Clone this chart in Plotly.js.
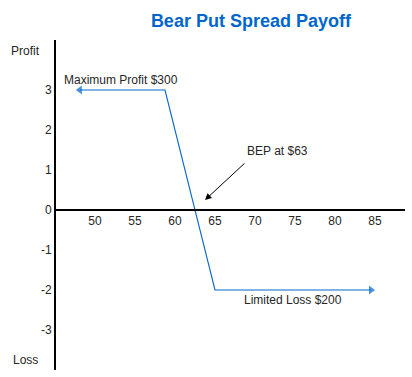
<!DOCTYPE html>
<html>
<head>
<meta charset="utf-8">
<script src="https://cdn.plot.ly/plotly-3.0.1.min.js"></script>
<style>html,body{margin:0;padding:0;background:#fff;}#chart{width:412px;height:377px;}</style>
</head>
<body>
<div id="chart"></div>
<script>
// Data
var payoffX = [48.1, 58.75, 65, 84.5];
var payoffY = [3, 3, -2, -2];
var xTickVals = [50, 55, 60, 65, 70, 75, 80, 85];
var xTickText = ['50', '55', '60', '65', '70', '75', '80', '85'];
var yTickVals = [-3, -2, -1, 0, 1, 2, 3];
var yTickText = ['-3', '-2', '-1', '0', '1', '2', '3'];
var title = 'Bear Put Spread Payoff';
var labelMaxProfit = 'Maximum Profit $300';
var labelBEP = 'BEP at $63';
var labelLoss = 'Limited Loss $200';
var bep = {x: 63.75, y: 0.25};

var FONT = 'Arial, "Liberation Sans", sans-serif';
var TXT = '#262626';
var BLUE = '#0066CC';

var trace = {
  x: payoffX, y: payoffY, type: 'scatter', mode: 'lines+markers',
  line: {color: BLUE, width: 1.1},
  marker: {
    symbol: ['triangle-left', 'circle', 'circle', 'triangle-right'],
    size: [8, 0, 0, 8],
    color: BLUE,
    line: {width: 0}
  },
  hoverinfo: 'skip', showlegend: false
};

var layout = {
  width: 412, height: 377,
  margin: {l: 56, r: 7, t: 40, b: 7},
  paper_bgcolor: '#fff', plot_bgcolor: '#fff',
  font: {family: FONT, size: 12, color: TXT},
  title: {
    text: '<b>' + title + '</b>',
    font: {family: FONT, size: 18, color: BLUE},
    xref: 'container', x: 0.609, xanchor: 'center',
    yref: 'container', y: 0.945, yanchor: 'middle'
  },
  xaxis: {
    range: [45.125, 88.75],
    anchor: 'free', position: 0.4848,
    showline: true, linecolor: '#000', linewidth: 2,
    showgrid: false, zeroline: false,
    tickvals: xTickVals, ticktext: xTickText,
    ticks: '', ticklen: 0,
    tickfont: {family: FONT, size: 12, color: TXT},
    fixedrange: true
  },
  yaxis: {
    range: [-4.0, 4.25],
    showline: true, linecolor: '#000', linewidth: 2,
    showgrid: false, zeroline: false,
    tickvals: yTickVals, ticktext: yTickText,
    ticks: '', ticklen: 0,
    tickfont: {family: FONT, size: 12, color: TXT},
    fixedrange: true
  },
  annotations: [
    {xref: 'paper', yref: 'y', x: -0.088, y: 3.975, text: 'Profit', showarrow: false,
     xanchor: 'center', yanchor: 'middle', font: {family: FONT, size: 12, color: TXT}},
    {xref: 'paper', yref: 'y', x: -0.088, y: -3.75, text: 'Loss', showarrow: false,
     xanchor: 'center', yanchor: 'middle', font: {family: FONT, size: 12, color: TXT}},
    {x: 45.9, y: 3.25, text: labelMaxProfit, showarrow: false, xanchor: 'left', yanchor: 'middle',
     font: {family: FONT, size: 12, color: TXT}},
    {x: 68.75, y: 1.47, text: labelBEP, showarrow: false, xanchor: 'left', yanchor: 'middle',
     font: {family: FONT, size: 12, color: TXT}},
    {x: bep.x, y: bep.y, text: '', showarrow: true, arrowhead: 2, arrowsize: 1.3, arrowwidth: 1,
     arrowcolor: '#000', ax: 41, ay: -38, standoff: 0},
    {x: 68.4, y: -2.25, text: labelLoss, showarrow: false, xanchor: 'left', yanchor: 'middle',
     font: {family: FONT, size: 12, color: TXT}}
  ]
};

Plotly.newPlot('chart', [trace], layout, {staticPlot: true, displayModeBar: false});
</script>
</body>
</html>
